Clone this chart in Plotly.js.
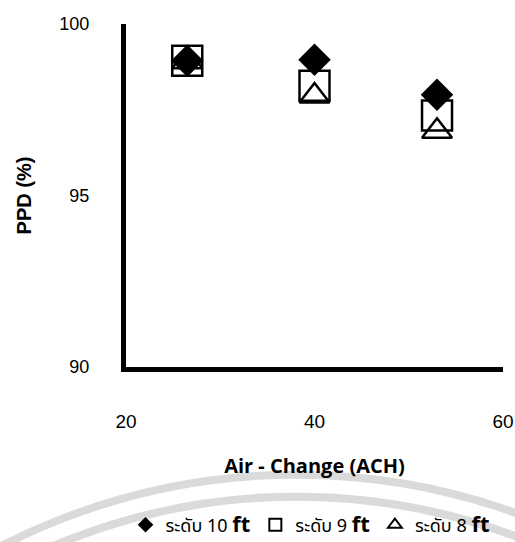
<!DOCTYPE html>
<html>
<head>
<meta charset="utf-8">
<script src="https://cdn.plot.ly/plotly-3.0.1.min.js"></script>
<style>html,body{margin:0;padding:0;background:#fff;}#chart{width:515px;height:542px;}</style>
</head>
<body>
<div id="chart"></div>
<script>
// ---- data ----
const ach = [26.5, 40, 53];
const level10 = [98.93, 98.96, 97.94];
const level9 = [98.93, 98.2, 97.33];
const level8 = [98.9, 97.9, 96.87];
const seriesNames = ['ระดับ 10', 'ระดับ 9', 'ระดับ 8'];
const unitLabel = 'ft';
const xTicks = [20, 40, 60];
const yTicks = [90, 95, 100];

// ---- layout geometry ----
const W = 515, H = 542;
const M = {l: 126, r: 12, t: 24, b: 175, autoexpand: false};
const pw = W - M.l - M.r, ph = H - M.t - M.b;
function px2paperX(px){ return (px - M.l) / pw; }
function py2paperY(py){ return (H - M.b - py) / ph; }
function arc(cx, cy, r){
  return {type:'circle', xref:'paper', yref:'paper', layer:'below',
    x0:px2paperX(cx-r), x1:px2paperX(cx+r), y0:py2paperY(cy+r), y1:py2paperY(cy-r),
    line:{color:'#dadada', width:8}, fillcolor:'rgba(0,0,0,0)'};
}
function lname(i){ return seriesNames[i] + ' <b><span style="font-size:22px">' + unitLabel + '</span></b>'; }

const traces = [
  {x: ach, y: level9, name: lname(1), mode:'markers', type:'scatter', legendrank:2,
   marker:{symbol:'square-open', size:30, color:'#000', line:{width:2.5, color:'#000'}}},
  {x: ach, y: level8, name: lname(2), mode:'markers', type:'scatter', legendrank:3,
   marker:{symbol:'triangle-up-open', size:26, color:'#000', line:{width:2.5, color:'#000'}}},
  {x: ach, y: level10, name: lname(0), mode:'markers', type:'scatter', legendrank:1,
   marker:{symbol:'diamond', size:25, color:'#000', line:{width:0}}}
];

const layout = {
  width: W, height: H,
  margin: M,
  paper_bgcolor:'#fff', plot_bgcolor:'rgba(0,0,0,0)',
  showlegend: true,
  legend: {orientation:'h', x:px2paperX(310), xanchor:'center', y: py2paperY(525), yanchor:'middle',
    bgcolor:'rgba(0,0,0,0)', itemsizing:'constant', itemwidth:30, traceorder:'normal',
    font:{family:'Tahoma, "Noto Sans Thai", "Noto Sans", "DejaVu Sans", sans-serif', size:18, color:'#000'}},
  xaxis: {range:[20,60], tickvals:xTicks, ticktext:xTicks.map(String), showgrid:false, zeroline:false,
    showline:true, linecolor:'#000', linewidth:5, ticks:'', ticklabelstandoff:33,
    tickfont:{family:'"Liberation Sans", Arial, sans-serif', size:19, color:'#000'},
    title:{text:'Air - Change (ACH)', standoff:30, font:{family:'"Open Sans", sans-serif', size:20, color:'#000', weight:'bold'}}},
  yaxis: {range:[90,100], tickvals:yTicks, showgrid:false, zeroline:false,
    showline:true, linecolor:'#000', linewidth:5, ticks:'', ticklabelstandoff:28,
    tickfont:{family:'"Liberation Sans", Arial, sans-serif', size:18, color:'#000'},
    title:{text:'<b>PPD (%)</b>', standoff:24, font:{family:'"Liberation Sans", Arial, sans-serif', size:20, color:'#000'}}},
  shapes: [arc(296.6, 1121.7, 647), arc(296.6, 1121.7, 625)]
};

Plotly.newPlot('chart', traces, layout, {displayModeBar:false, staticPlot:true});
</script>
</body>
</html>
